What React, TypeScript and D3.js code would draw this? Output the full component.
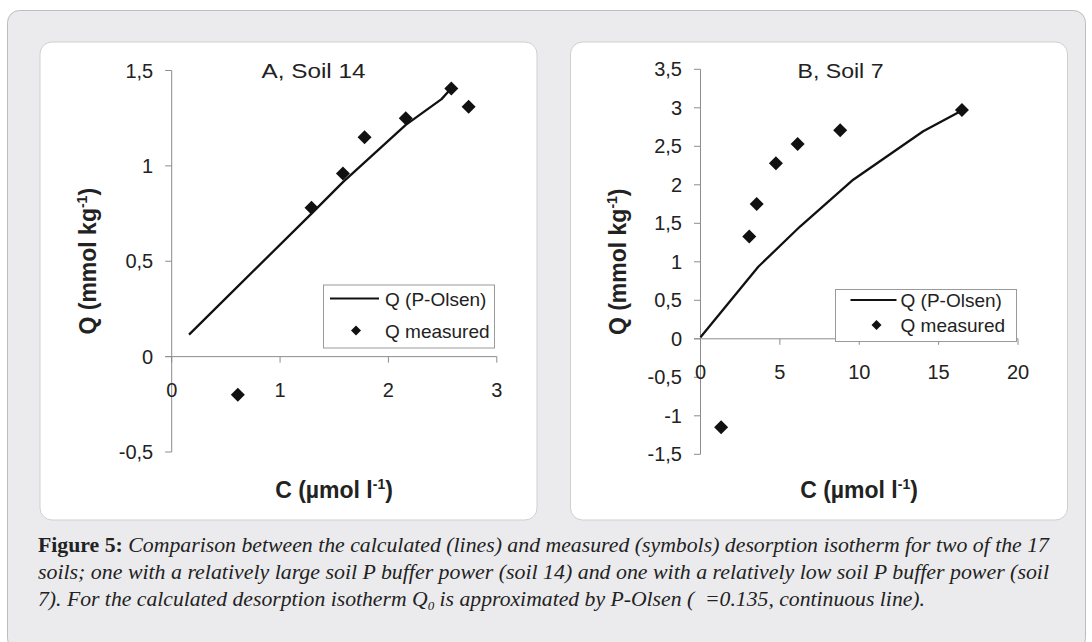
import React from 'react';
import * as d3 from 'd3';

// ---- Data: Panel A, Soil 14 ----
const aLineC = [0.16, 1.29, 1.58, 2.16, 2.49, 2.57];
const aLineQ = [0.115, 0.75, 0.915, 1.215, 1.35, 1.4];
const aMeasC = [0.61, 1.29, 1.58, 1.78, 2.16, 2.58, 2.74];
const aMeasQ = [-0.2, 0.78, 0.96, 1.15, 1.25, 1.405, 1.31];
const aXTicks = [0, 1, 2, 3];
const aYTicks = [-0.5, 0, 0.5, 1, 1.5];

// ---- Data: Panel B, Soil 7 ----
const bLineC = [0, 3.64, 6.27, 9.62, 14.03, 16.47];
const bLineQ = [0.02, 0.936, 1.458, 2.066, 2.696, 2.966];
const bMeasC = [1.3, 3.07, 3.54, 4.75, 6.12, 8.8, 16.47];
const bMeasQ = [-1.15, 1.33, 1.75, 2.28, 2.53, 2.71, 2.97];
const bXTicks = [0, 5, 10, 15, 20];
const bYTicks = [-1.5, -1, -0.5, 0, 0.5, 1, 1.5, 2, 2.5, 3, 3.5];

const seriesLine = 'Q (P-Olsen)';
const seriesMeas = 'Q measured';

const captionLines = [
  'Comparison between the calculated (lines) and measured (symbols) desorption isotherm for two of the 17',
  'soils; one with a relatively large soil P buffer power (soil 14) and one with a relatively low soil P buffer power (soil',
  '7). For the calculated desorption isotherm Q',
  ' is approximated by P-Olsen (\u00a0\u00a0=0.135, continuous line).',
];

const fmt = (v: number) => String(v).replace('.', ',');
const SANS = '"Liberation Sans", Arial, sans-serif';
const SERIF = '"Liberation Serif", "DejaVu Serif", serif';
const TXT = '#222';
const AXIS = '#8c8c8c';

const diamond = (cx: number, cy: number, r: number) =>
  `M${cx},${cy - r}L${cx + r},${cy}L${cx},${cy + r}L${cx - r},${cy}Z`;

type LegendSpec = {
  box: [number, number, number, number];
  row1: number;
  row2: number;
  lineX: [number, number];
  markX: number;
  textX: number;
};

type PanelProps = {
  box: [number, number, number, number];
  xDomain: [number, number];
  yDomain: [number, number];
  xRange: [number, number];
  yRange: [number, number];
  xTicks: number[];
  yTicks: number[];
  lineC: number[];
  lineQ: number[];
  measC: number[];
  measQ: number[];
  title: string;
  titleX: number;
  titleLen: number;
  legend: LegendSpec;
  ylabX: number;
  xlabX: number;
};

function Panel(p: PanelProps) {
  const x = d3.scaleLinear().domain(p.xDomain).range(p.xRange);
  const y = d3.scaleLinear().domain(p.yDomain).range(p.yRange);
  const y0 = y(0);
  const x0 = x(0);
  const line = d3
    .line<number>()
    .x((_, i) => x(p.lineC[i]))
    .y((d) => y(d));
  const L = p.legend;
  const [lx, ly, lw, lh] = L.box;
  const yMid = (p.yRange[0] + p.yRange[1]) / 2;
  return (
    <g>
      <rect x={p.box[0]} y={p.box[1]} width={p.box[2]} height={p.box[3]} rx={12} fill="#fff" stroke="#cfcfcf" strokeWidth={1} />
      {/* y axis */}
      <line x1={x0} x2={x0} y1={p.yRange[0]} y2={p.yRange[1]} stroke={AXIS} strokeWidth={1} />
      {p.yTicks.map((t) => (
        <g key={'yt' + t}>
          <line x1={x0 - 6.5} x2={x0} y1={y(t)} y2={y(t)} stroke={AXIS} strokeWidth={1} />
          <text x={x0 - 18.5} y={y(t) + 7} textAnchor="end" fontFamily={SANS} fontSize={20} fill={TXT}>
            {fmt(t)}
          </text>
        </g>
      ))}
      {/* x axis */}
      <line x1={x0 - 6.5} x2={p.xRange[1]} y1={y0} y2={y0} stroke={AXIS} strokeWidth={1} />
      {p.xTicks.map((t) => (
        <g key={'xt' + t}>
          <line x1={x(t)} x2={x(t)} y1={y0} y2={y0 + 6} stroke={AXIS} strokeWidth={1} />
          <text x={x(t)} y={y0 + 40} textAnchor="middle" fontFamily={SANS} fontSize={20} fill={TXT}>
            {fmt(t)}
          </text>
        </g>
      ))}
      {/* title */}
      <text x={p.titleX} y={78} textAnchor="middle" fontFamily={SANS} fontSize={21} fill={TXT} textLength={p.titleLen} lengthAdjust="spacingAndGlyphs">
        {p.title}
      </text>
      {/* legend */}
      <rect x={lx} y={ly} width={lw} height={lh} fill="#fff" stroke="#9a9a9a" strokeWidth={1} />
      <line x1={L.lineX[0]} x2={L.lineX[1]} y1={L.row1} y2={L.row1} stroke="#111" strokeWidth={2} />
      <text x={L.textX} y={L.row1 + 7} fontFamily={SANS} fontSize={19} fill={TXT}>{seriesLine}</text>
      <path d={diamond(L.markX, L.row2, 5)} fill="#111" />
      <text x={L.textX} y={L.row2 + 7} fontFamily={SANS} fontSize={19} fill={TXT}>{seriesMeas}</text>
      {/* calculated line */}
      <path d={line(p.lineQ) || ''} fill="none" stroke="#111" strokeWidth={2.3} strokeLinejoin="round" />
      {/* measured points */}
      {p.measC.map((c, i) => (
        <path key={'m' + i} d={diamond(x(c), y(p.measQ[i]), 7)} fill="#111" />
      ))}
      {/* axis labels */}
      <text x={p.xlabX} y={498} textAnchor="middle" fontFamily={SANS} fontSize={23} fontWeight="bold" fill={TXT}>
        C (µmol l<tspan fontSize={14} dy={-9}>-1</tspan><tspan dy={9}>)</tspan>
      </text>
      <text transform={`translate(${p.ylabX},${yMid}) rotate(-90)`} textAnchor="middle" fontFamily={SANS} fontSize={23} fontWeight="bold" fill={TXT}>
        Q (mmol kg<tspan fontSize={14} dy={-9}>-1</tspan><tspan dy={9}>)</tspan>
      </text>
    </g>
  );
}

export default function App() {
  return (
    <svg width={1092} height={642} style={{ position: 'absolute', left: 0, top: 0 }}>
      <rect x={0} y={0} width={1092} height={642} fill="#fff" />
      <rect x={7.5} y={10.5} width={1078} height={640} rx={12} fill="#ebebed" stroke="#bdbdbd" strokeWidth={1} />
      <Panel
        box={[40, 42, 497, 478]}
        xDomain={[0, 3]}
        yDomain={[-0.5, 1.5]}
        xRange={[171.7, 496.8]}
        yRange={[452, 70.5]}
        xTicks={aXTicks}
        yTicks={aYTicks}
        lineC={aLineC}
        lineQ={aLineQ}
        measC={aMeasC}
        measQ={aMeasQ}
        title="A, Soil 14"
        titleX={313.5}
        titleLen={104}
        legend={{ box: [323.5, 285, 171, 63], row1: 298.5, row2: 330.5, lineX: [330, 379], markX: 356, textX: 385 }}
        ylabX={96}
        xlabX={334}
      />
      <Panel
        box={[570.5, 42, 497, 478]}
        xDomain={[0, 20]}
        yDomain={[-1.5, 3.5]}
        xRange={[700.5, 1018]}
        yRange={[454.3, 69.3]}
        xTicks={bXTicks}
        yTicks={bYTicks}
        lineC={bLineC}
        lineQ={bLineQ}
        measC={bMeasC}
        measQ={bMeasQ}
        title="B, Soil 7"
        titleX={840.5}
        titleLen={86}
        legend={{ box: [835.5, 289.5, 181, 52], row1: 300, row2: 325, lineX: [850.5, 896.5], markX: 876.5, textX: 900.5 }}
        ylabX={626}
        xlabX={859}
      />
      {/* caption */}
      <g fontFamily={SERIF} fontSize={20} fill="#222">
        <text x={38} y={552} textLength={1011} lengthAdjust="spacingAndGlyphs">
          <tspan fontWeight="bold">Figure 5:</tspan>
          <tspan fontStyle="italic"> {captionLines[0]}</tspan>
        </text>
        <text x={38} y={579} fontStyle="italic" textLength={1011} lengthAdjust="spacingAndGlyphs">
          {captionLines[1]}
        </text>
        <text x={38} y={606} fontStyle="italic" textLength={887} lengthAdjust="spacingAndGlyphs">
          {captionLines[2]}<tspan fontSize={12} dy={4}>0</tspan>
          <tspan dy={-4}>{captionLines[3]}</tspan>
        </text>
      </g>
    </svg>
  );
}
